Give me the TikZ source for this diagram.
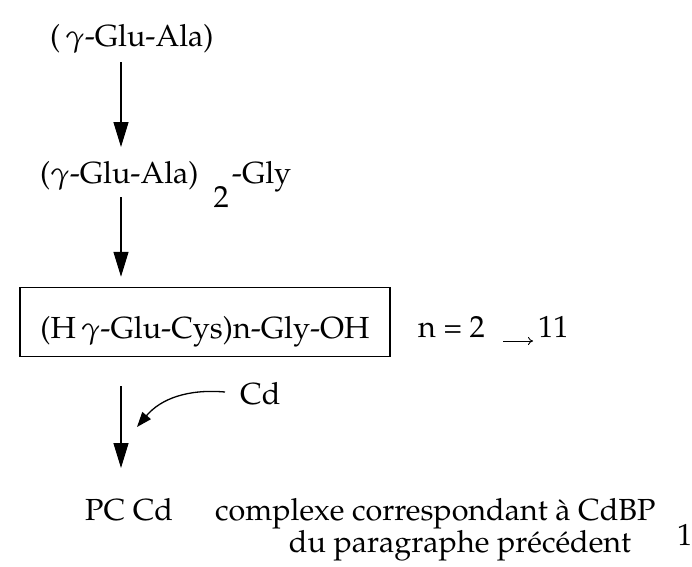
\documentclass[tikz,border=0pt]{standalone}
\usepackage[T1]{fontenc}
\usepackage{mathpazo}
\usetikzlibrary{arrows.meta}

\tikzset{
  flow/.style={draw, line width=1.3pt, -{Triangle[length=25pt,width=15pt]}},
  small/.style={draw, line width=0.9pt, -{To[length=5pt,width=8pt]}},
  txt/.style={anchor=base west, inner sep=0pt},
}

\begin{document}
\begin{tikzpicture}[x=1pt,y=-1pt,font=\fontsize{30.5}{36}\selectfont]
  \useasboundingbox (0,0) rectangle (692,566);

  \coordinate (axis) at (121,0);
  \coordinate (tip)  at (137,427);

  \begin{scope}[every node/.style={txt}]
    \node (gluala)  at (50,46)   {(\hspace{5pt}$\gamma$-Glu-Ala)};
    \node (dimer)   at (40,183)  {($\gamma$-Glu-Ala)\hspace{15pt}\raisebox{-24pt}{2}\hspace{3pt}-Gly};
    \node (nval)    at (418,337) {n = 2};
    \node (eleven)  at (538,337) {11};
    \node (cd)      at (240,404) {Cd};
    \node (pccd)    at (85,520)  {PC Cd};
    \node (cplx)    at (215,520) {complexe correspondant \`a CdBP};
    \node (one)     at (677,545) {1};
  \end{scope}

  \node[draw, line width=1.5pt, minimum width=370pt, minimum height=69pt,
        inner sep=0pt] (pc) at (205,322) {};
  \node[anchor=base, inner sep=0pt] (pctext) at (205,338) {(H\,$\gamma$-Glu-Cys)n-Gly-OH};
  \node[anchor=base, inner sep=0pt] (para) at (460,552) {du paragraphe pr\'ec\'edent};

  % the chain
  \path[flow] ([yshift=-16pt]gluala.base -| axis) -- ([yshift=36pt]dimer.base -| axis);
  \path[flow] ([yshift=-14pt]dimer.base -| axis)  -- ([yshift=10pt]pc.north -| axis);
  \path[flow] ([yshift=-29pt]pc.south -| axis)    -- ([yshift=52pt]pccd.base -| axis);
  \path[small] ([xshift=18pt,yshift=-4pt]nval.base east)
               -- ([xshift=-5pt,yshift=-4pt]eleven.base west);
  \path[draw, line width=1.3pt, -{Triangle[length=15pt,width=11pt]}]
       ([xshift=-15pt,yshift=12pt]cd.base west) to[out=175, in=50] (tip);

\end{tikzpicture}
\end{document}
